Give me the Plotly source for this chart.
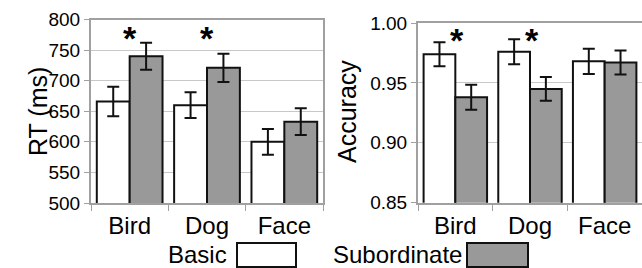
import plotly.graph_objects as go
from plotly.subplots import make_subplots

categories = ["Bird", "Dog", "Face"]
rt_basic = [666, 660, 600]
rt_basic_err = [24, 21, 21]
rt_sub = [740, 721, 633]
rt_sub_err = [22, 23, 22]
acc_basic = [0.974, 0.976, 0.968]
acc_basic_err = [0.010, 0.0105, 0.0105]
acc_sub = [0.938, 0.945, 0.967]
acc_sub_err = [0.0105, 0.010, 0.010]
rt_sig = ["Bird", "Dog"]
acc_sig = ["Bird", "Dog"]

FONT = "Liberation Sans, Arial, sans-serif"
W, H = 642, 268
BORDER = "#a0a0a0"
GRID = "#c8c8c8"
SUBFILL = "#999999"

fig = make_subplots(rows=1, cols=2)

def add_bars(vals, errs, color, name, col):
    fig.add_trace(go.Bar(
        x=categories, y=vals, name=name,
        marker=dict(color=color, line=dict(color="#111111", width=2)),
        error_y=dict(type="data", array=errs, visible=True, color="#111111", thickness=2, width=6),
        showlegend=False,
    ), row=1, col=col)

add_bars(rt_basic, rt_basic_err, "#ffffff", "Basic", 1)
add_bars(rt_sub, rt_sub_err, SUBFILL, "Subordinate", 1)
add_bars(acc_basic, acc_basic_err, "#ffffff", "Basic", 2)
add_bars(acc_sub, acc_sub_err, SUBFILL, "Subordinate", 2)

xcommon = dict(showline=True, linecolor=BORDER, linewidth=2, mirror=True,
               ticks="outside", tickson="boundaries", ticklen=6, tickcolor=BORDER, tickwidth=1,
               tickfont=dict(family=FONT, size=24, color="#000000"), showgrid=False)
ycommon = dict(showline=True, linecolor=BORDER, linewidth=2, mirror=True,
               ticks="outside", ticklen=5, tickcolor=BORDER, tickwidth=1,
               showgrid=True, gridcolor=GRID, gridwidth=1, zeroline=False,
               tickfont=dict(family=FONT, size=19, color="#000000"))

fig.update_xaxes(**xcommon)
fig.update_yaxes(**ycommon)

fig.update_layout(
    xaxis=dict(domain=[91 / W, 323 / W]),
    xaxis2=dict(domain=[418 / W, 1.0]),
    yaxis=dict(domain=[1 - 203 / H, 1 - 19.5 / H], range=[500, 800], dtick=50),
    yaxis2=dict(domain=[1 - 202.7 / H, 1 - 23 / H], range=[0.85, 1.0], dtick=0.05,
                tickformat=".2f", mirror=False),
    barmode="group", bargap=0.15, bargroupgap=0,
    width=W, height=H, margin=dict(l=0, r=0, t=0, b=0, autoexpand=False),
    plot_bgcolor="#ffffff", paper_bgcolor="#ffffff",
    font=dict(family=FONT, color="#000000"),
)

# significance stars
for c in rt_sig:
    fig.add_annotation(x=c, y=780, xref="x", yref="y", text="<b>*</b>", showarrow=False,
                       font=dict(family=FONT, size=34, color="#000000"), yanchor="middle", yshift=-6)
for c in acc_sig:
    fig.add_annotation(x=c, y=0.991, xref="x2", yref="y2", text="<b>*</b>", showarrow=False,
                       font=dict(family=FONT, size=34, color="#000000"), yanchor="middle", yshift=-6,
                       xshift=2)

# axis titles
fig.add_annotation(x=22 / W, y=1 - 112 / H, xref="paper", yref="paper", text="RT (ms)",
                   textangle=-90, showarrow=False, font=dict(family=FONT, size=25, color="#000000"))
fig.add_annotation(x=347 / W, y=1 - 112 / H, xref="paper", yref="paper", text="Accuracy",
                   textangle=-90, showarrow=False, font=dict(family=FONT, size=25, color="#000000"))

# legend
legend_items = [("Basic", "#ffffff", 229, 237, 296), ("Subordinate", SUBFILL, 464, 467, 528)]
for label, fill, tx, x0, x1 in legend_items:
    fig.add_annotation(x=tx / W, y=1 - 254.5 / H, xref="paper", yref="paper", text=label,
                       xanchor="right", yanchor="middle", showarrow=False,
                       font=dict(family=FONT, size=24, color="#000000"))
    fig.add_shape(type="rect", xref="paper", yref="paper", x0=x0 / W, x1=x1 / W,
                  y0=1 - 267 / H, y1=1 - 243 / H, fillcolor=fill,
                  line=dict(color="#111111", width=2))

fig.write_html("out.html", config={"responsive": False, "displayModeBar": False},
               post_script="document.body.style.margin='0';document.body.style.overflow='hidden';")
